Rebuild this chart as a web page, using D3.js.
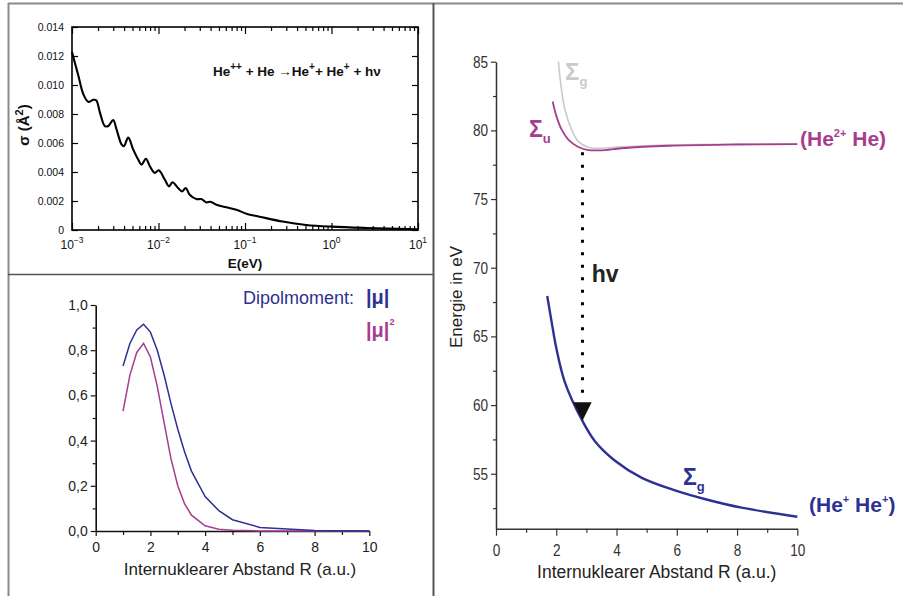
<!DOCTYPE html>
<html><head><meta charset="utf-8">
<script src="https://cdn.jsdelivr.net/npm/d3@7"></script>
<style>
html,body{margin:0;padding:0;background:#fff;}
svg{display:block;font-family:"Liberation Sans",Arial,Helvetica,sans-serif;}
</style>
</head><body>
<svg id="c" width="903" height="596"></svg>
<script>
// ---------- Data: top-left cross section ----------
const crossE = [0.001,0.001183,0.001349,0.001542,0.001762,0.001905,0.002104,0.002399,0.00263,0.002992,0.003273,0.003741,0.003981,0.004467,0.005093,0.005821,0.006368,0.007145,0.007943,0.009057,0.01007,0.01183,0.01324,0.01449,0.01683,0.01871,0.02065,0.02296,0.02742,0.03133,0.03581,0.03981,0.04667,0.06081,0.07943,0.1081,0.1472,0.2735,0.5093,1,2.512,10];
const crossSigma = [0.01227,0.01065,0.00938,0.00884,0.00898,0.00895,0.0081,0.00717,0.00717,0.00759,0.00694,0.0059,0.00578,0.00637,0.00556,0.00486,0.00451,0.00491,0.0044,0.00394,0.00412,0.00347,0.00301,0.00329,0.0029,0.00266,0.0029,0.00243,0.00213,0.00213,0.0019,0.00195,0.00174,0.00157,0.00139,0.00109,0.00092,0.00058,0.00035,0.00023,0.00014,0.00005];
const crossYTicks = [0,0.002,0.004,0.006,0.008,0.010,0.012,0.014];
const crossXTicks = [0.001,0.01,0.1,1,10];
const crossXExp = ["-3","-2","-1","0","1"];

// ---------- Data: bottom-left dipole moment ----------
const dipR   = [1,1.25,1.5,1.75,2,2.25,2.5,2.75,3,3.25,3.5,4,4.5,5,6,7,8,10];
const dipMu  = [0.73,0.83,0.89,0.915,0.88,0.80,0.69,0.565,0.45,0.35,0.265,0.152,0.09,0.05,0.016,0.009,0.002,0.0];
const dipMu2 = [0.53,0.69,0.79,0.83,0.77,0.64,0.48,0.32,0.20,0.12,0.07,0.023,0.008,0.003,0.0003,0.0,0.0,0.0];
const dipYTicks = [0,0.2,0.4,0.6,0.8,1.0];
const dipXTicks = [0,2,4,6,8,10];

// ---------- Data: right potential curves ----------
const sgUpperR = [2.07,2.16,2.29,2.51,2.73,3.06,3.5,4.17,5.72,8,10];
const sgUpperE = [85,83.2,81.5,80.05,79.2,78.77,78.7,78.8,78.94,78.99,79.0];
const suR = [1.88,2.01,2.18,2.4,2.73,3.06,3.5,4.17,5.72,8,10];
const suE = [82.1,81.0,80.05,79.32,78.79,78.57,78.55,78.7,78.88,78.97,79.0];
const sgLowerR = [1.70,1.85,2.01,2.29,2.84,3.29,3.95,4.84,5.94,7.05,8.15,10];
const sgLowerE = [67.94,66.0,64.06,61.64,58.97,57.35,55.95,54.7,53.79,53.09,52.53,51.87];
const potYTicks = [55,60,65,70,75,80,85];
const potYMinor = [52.5,57.5,62.5,67.5,72.5,77.5,82.5];
const potXTicks = [0,2,4,6,8,10];
const potXMinor = [1,3,5,7,9];
const arrowR = 2.87, arrowFromE = 78.55, arrowToE = 58.86;

const BLUE = "#2e3192", MAG = "#a63d8e", GRAY = "#cacaca";
const svg = d3.select("#c");

// ---------- Frame ----------
svg.append("line").attr("x1",8).attr("y1",3.5).attr("x2",903).attr("y2",3.5).attr("stroke","#8a8a8a").attr("stroke-width",2);
svg.append("line").attr("x1",8.5).attr("y1",3).attr("x2",8.5).attr("y2",596).attr("stroke","#8a8a8a").attr("stroke-width",2);
svg.append("line").attr("x1",433.5).attr("y1",3).attr("x2",433.5).attr("y2",596).attr("stroke","#555").attr("stroke-width",2);
svg.append("line").attr("x1",8).attr("y1",274.5).attr("x2",433).attr("y2",274.5).attr("stroke","#555").attr("stroke-width",1.5);

// ---------- Top-left panel ----------
{
  const x = d3.scaleLog().domain([1e-3,10]).range([72,418]);
  const y = d3.scaleLinear().domain([0,0.014]).range([230,27]);
  const g = svg.append("g");
  const minor = [];
  for (let d=-3; d<1; d++) for (let m=2; m<=9; m++) minor.push(m*Math.pow(10,d));
  const styleAxis = s => { s.select(".domain").remove(); s.selectAll("line").attr("stroke","#000").attr("stroke-width",1.2); };
  g.append("g").attr("transform","translate(0,230)").call(d3.axisBottom(x).tickValues(crossXTicks).tickSize(-7).tickFormat("")).call(styleAxis);
  g.append("g").attr("transform","translate(0,230)").call(d3.axisBottom(x).tickValues(minor).tickSize(-4).tickFormat("")).call(styleAxis);
  g.append("g").attr("transform","translate(0,27)").call(d3.axisTop(x).tickValues(crossXTicks).tickSize(-7).tickFormat("")).call(styleAxis);
  g.append("g").attr("transform","translate(0,27)").call(d3.axisTop(x).tickValues(minor).tickSize(-4).tickFormat("")).call(styleAxis);
  g.append("g").attr("transform","translate(72,0)").call(d3.axisLeft(y).tickValues(crossYTicks).tickSize(-6).tickPadding(8)
     .tickFormat(v => v===0 ? "0" : d3.format(".3f")(v))).call(styleAxis)
     .selectAll("text").attr("font-size",10.5).attr("fill","#111").attr("font-family","'Liberation Sans',Arial,sans-serif");
  g.append("g").attr("transform","translate(418,0)").call(d3.axisRight(y).tickValues(crossYTicks).tickSize(-6).tickFormat("")).call(styleAxis);
  g.append("rect").attr("x",72).attr("y",27).attr("width",346).attr("height",203).attr("fill","none").attr("stroke","#000").attr("stroke-width",1.6);
  crossXTicks.forEach((v,i) => {
    const t = g.append("text").attr("x",x(v)).attr("y",249).attr("text-anchor","middle").attr("font-size",12).attr("fill","#111");
    t.append("tspan").text("10");
    t.append("tspan").attr("dy",-6).attr("font-size",8.5).text(crossXExp[i].replace("-","\u2212"));
  });
  const line = d3.line().x((d,i)=>x(crossE[i])).y((d,i)=>y(crossSigma[i])).curve(d3.curveCatmullRom.alpha(0.5));
  g.append("path").attr("d",line(crossE)).attr("fill","none").attr("stroke","#000").attr("stroke-width",2.1);
  const eq = g.append("text").attr("x",213).attr("y",76).attr("font-size",13.5).attr("font-weight","bold").attr("fill","#111");
  eq.append("tspan").text("He");
  eq.append("tspan").attr("dy",-6).attr("font-size",10).text("++");
  eq.append("tspan").attr("dy",6).text(" + He \u2192He");
  eq.append("tspan").attr("dy",-6).attr("font-size",10).text("+");
  eq.append("tspan").attr("dy",6).text("+ He");
  eq.append("tspan").attr("dy",-6).attr("font-size",10).text("+");
  eq.append("tspan").attr("dy",6).text(" + h\u03bd");
  g.append("text").attr("x",245).attr("y",268).attr("text-anchor","middle").attr("font-size",13.5).attr("font-weight","bold").attr("fill","#111").text("E(eV)");
  const yl = g.append("text").attr("transform","translate(29,125) rotate(-90)").attr("text-anchor","middle").attr("font-size",15).attr("font-weight","bold").attr("fill","#111");
  yl.append("tspan").text("\u03c3  (\u00c5");
  yl.append("tspan").attr("dy",-6).attr("font-size",11).text("2");
  yl.append("tspan").attr("dy",6).text(")");
}

// ---------- Bottom-left panel ----------
{
  const x = d3.scaleLinear().domain([0,10]).range([95.7,369.3]);
  const y = d3.scaleLinear().domain([0,1]).range([531,305]);
  const g = svg.append("g");
  const fmt = v => d3.format(".1f")(v).replace(".",",");
  const ya = g.append("g").attr("transform","translate(95.7,0)").call(d3.axisLeft(y).tickValues(dipYTicks).tickSize(5).tickSizeOuter(0).tickPadding(3).tickFormat(fmt));
  ya.selectAll("text").attr("font-size",14).attr("fill","#222");
  g.append("g").attr("transform","translate(95.7,0)").call(d3.axisLeft(y).tickValues([0.1,0.3,0.5,0.7,0.9]).tickSize(3).tickFormat("")).select(".domain").remove();
  const xa = g.append("g").attr("transform","translate(0,531)").call(d3.axisBottom(x).tickValues(dipXTicks).tickSize(5).tickSizeOuter(0).tickPadding(6));
  xa.selectAll("text").attr("font-size",14).attr("fill","#222");
  g.append("g").attr("transform","translate(0,531)").call(d3.axisBottom(x).tickValues([1,3,5,7,9]).tickSize(4).tickFormat("")).select(".domain").remove();
  g.selectAll(".domain").attr("stroke","#111").attr("stroke-width",1.6);
  g.selectAll(".tick line").attr("stroke","#111").attr("stroke-width",1.2);
  const line = vals => d3.line().x((d,i)=>x(dipR[i])).y((d,i)=>y(vals[i]))(dipR);
  g.append("path").attr("d",line(dipMu2)).attr("fill","none").attr("stroke",MAG).attr("stroke-width",1.5);
  g.append("path").attr("d",line(dipMu)).attr("fill","none").attr("stroke",BLUE).attr("stroke-width",1.5);
  g.append("text").attr("x",240).attr("y",575).attr("text-anchor","middle").attr("font-size",17).attr("fill","#222").text("Internuklearer Abstand R (a.u.)");
  g.append("text").attr("x",243).attr("y",304).attr("font-size",18).attr("fill",BLUE).text("Dipolmoment:");
  g.append("text").attr("x",366).attr("y",304).attr("font-size",20).attr("font-weight","bold").attr("fill",BLUE).text("|\u03bc|");
  const l2 = g.append("text").attr("x",366).attr("y",337).attr("font-size",20).attr("font-weight","bold").attr("fill",MAG);
  l2.append("tspan").text("|\u03bc|");
  l2.append("tspan").attr("dy",-12).attr("font-size",9).text("2");
}

// ---------- Right panel ----------
{
  const x = d3.scaleLinear().domain([0,10]).range([496,797.3]);
  const y = d3.scaleLinear().domain([51,85]).range([528.7,61.7]);
  const g = svg.append("g");
  const narrow = s => s.selectAll("text").attr("font-size",17).attr("fill","#333").attr("transform","scale(0.8,1)");
  g.append("g").attr("transform","translate(496,0)").call(d3.axisLeft(y).tickValues(potYTicks).tickSize(5).tickSizeOuter(0).tickPadding(5)).call(narrow);
  g.append("g").attr("transform","translate(496,0)").call(d3.axisLeft(y).tickValues(potYMinor).tickSize(3).tickFormat("")).select(".domain").remove();
  g.append("g").attr("transform","translate(0,528.7)").call(d3.axisBottom(x).tickValues(potXTicks).tickSize(7).tickSizeOuter(0).tickPadding(8)).call(narrow);
  g.append("g").attr("transform","translate(0,528.7)").call(d3.axisBottom(x).tickValues(potXMinor).tickSize(4).tickFormat("")).select(".domain").remove();
  g.selectAll(".domain").attr("stroke","#333").attr("stroke-width",1.5);
  g.selectAll(".tick line").attr("stroke","#333").attr("stroke-width",1.2);

  const line = (rs,es) => d3.line().x((d,i)=>x(rs[i])).y((d,i)=>y(es[i])).curve(d3.curveCatmullRom.alpha(0.5))(rs);
  g.append("path").attr("d",line(sgUpperR,sgUpperE)).attr("fill","none").attr("stroke",GRAY).attr("stroke-width",1.6);
  g.append("path").attr("d",line(suR,suE)).attr("fill","none").attr("stroke",MAG).attr("stroke-width",1.8);
  g.append("path").attr("d",line(sgLowerR,sgLowerE)).attr("fill","none").attr("stroke",BLUE).attr("stroke-width",2.4);

  const ax = x(arrowR), headH = 18.4, tip = y(arrowToE);
  g.append("line").attr("x1",ax).attr("x2",ax).attr("y1",y(arrowFromE)+2).attr("y2",tip-headH)
    .attr("stroke","#000").attr("stroke-width",3).attr("stroke-dasharray","3,9.5");
  g.append("path").attr("d",`M${ax-9.2},${tip-headH}L${ax+9.2},${tip-headH}L${ax},${tip}Z`).attr("fill","#111");
  g.append("text").attr("x",591.7).attr("y",281.7).attr("font-size",23).attr("font-weight","bold").attr("fill","#222").text("hv");

  const sigma = (xx,yy,sub,color,fs) => {
    const t = g.append("text").attr("x",xx).attr("y",yy).attr("font-size",fs).attr("font-weight","bold").attr("fill",color);
    t.append("tspan").text("\u03a3");
    t.append("tspan").attr("dy",6).attr("font-size",13).text(sub);
  };
  sigma(565,80,"g",GRAY,24);
  sigma(529,136.7,"u",MAG,23);
  sigma(683,485,"g",BLUE,23);

  const t1 = g.append("text").attr("x",800).attr("y",145.7).attr("font-size",21).attr("font-weight","bold").attr("fill",MAG);
  t1.append("tspan").text("(He");
  t1.append("tspan").attr("dy",-9).attr("font-size",11).text("2+");
  t1.append("tspan").attr("dy",9).text(" He)");
  const t2 = g.append("text").attr("x",809).attr("y",511.7).attr("font-size",21).attr("font-weight","bold").attr("fill",BLUE);
  t2.append("tspan").text("(He");
  t2.append("tspan").attr("dy",-9).attr("font-size",11).text("+");
  t2.append("tspan").attr("dy",9).text(" He");
  t2.append("tspan").attr("dy",-9).attr("font-size",11).text("+");
  t2.append("tspan").attr("dy",9).text(")");

  g.append("text").attr("x",656.7).attr("y",578).attr("text-anchor","middle").attr("font-size",17.5).attr("fill","#222").text("Internuklearer Abstand R (a.u.)");
  g.append("text").attr("transform","translate(462,297) rotate(-90)").attr("text-anchor","middle").attr("font-size",17).attr("fill","#222").text("Energie in eV");
}
</script>
</body></html>
